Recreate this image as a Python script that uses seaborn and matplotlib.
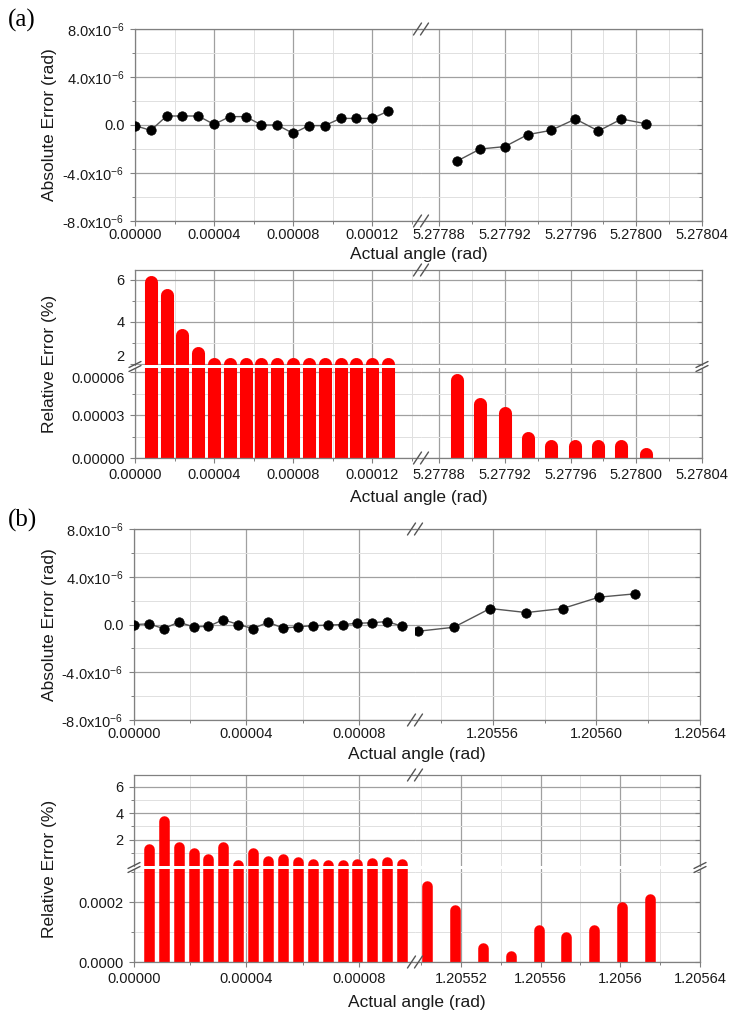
import numpy as np
import matplotlib
matplotlib.use("Agg")
import matplotlib.pyplot as plt
import seaborn as sns
from matplotlib.lines import Line2D

# ---------------- data ----------------
# Panel (a): absolute error (micro-rad) vs actual angle
a_left_x = [0.0, 0.000008, 0.000016, 0.000024, 0.000032, 0.000040, 0.000048, 0.000056,
            0.000064, 0.000072, 0.000080, 0.000088, 0.000096, 0.000104, 0.000112,
            0.000120, 0.000128]
a_left_err = [-0.05, -0.45, 0.75, 0.75, 0.75, 0.05, 0.7, 0.7, 0.0, 0.0, -0.7, -0.05,
              -0.05, 0.55, 0.55, 0.55, 1.15]
a_right_x = [5.277891, 5.277905, 5.277920, 5.277934, 5.277948, 5.277963, 5.277977,
             5.277991, 5.278006]
a_right_err = [-3.0, -2.0, -1.8, -0.8, -0.45, 0.5, -0.5, 0.5, 0.1]

# Panel (a): relative error (%)
a_rel_left_x = [0.000008, 0.000016, 0.000024, 0.000032, 0.000040, 0.000048, 0.000056,
                0.000064, 0.000072, 0.000080, 0.000088, 0.000096, 0.000104, 0.000112,
                0.000120, 0.000128]
a_rel_left = [5.9, 5.3, 3.4, 2.5, 2.0, 2.0, 2.0, 2.0, 2.0, 2.0, 2.0, 2.0, 2.0, 2.0, 2.0, 2.0]
a_rel_right_x = a_right_x
a_rel_right = [5.45e-5, 3.75e-5, 3.15e-5, 1.4e-5, 0.85e-5, 0.85e-5, 0.85e-5, 0.85e-5, 0.25e-5]

# Panel (b): absolute error (micro-rad)
b_left_x = [0.0, 0.0000053, 0.0000106, 0.0000159, 0.0000212, 0.0000265, 0.0000318,
            0.0000371, 0.0000424, 0.0000477, 0.0000530, 0.0000583, 0.0000636, 0.0000689,
            0.0000742, 0.0000795, 0.0000848, 0.0000901, 0.0000954]
b_left_err = [0.0, 0.05, -0.35, 0.2, -0.2, -0.15, 0.4, 0.0, -0.35, 0.2, -0.3, -0.2, -0.1,
              -0.05, 0.0, 0.1, 0.15, 0.25, -0.15]
b_right_x = [1.205531, 1.205545, 1.205559, 1.205573, 1.205587, 1.205601, 1.205615]
b_right_err = [-0.57, -0.23, 1.34, 1.0, 1.34, 2.29, 2.57]

# Panel (b): relative error (%)
b_rel_left_x = [0.0000053, 0.0000106, 0.0000159, 0.0000212, 0.0000265, 0.0000318,
                0.0000371, 0.0000424, 0.0000477, 0.0000530, 0.0000583, 0.0000636,
                0.0000689, 0.0000742, 0.0000795, 0.0000848, 0.0000901, 0.0000954]
b_rel_left = [1.27, 3.38, 1.42, 0.96, 0.5, 1.47, 0.1, 0.96, 0.38, 0.5, 0.33, 0.15, 0.08,
              0.08, 0.15, 0.2, 0.33, 0.15]
b_rel_right_x = [1.205503, 1.205517, 1.205531, 1.205545, 1.205559, 1.205573, 1.205587,
                 1.205601, 1.205615]
b_rel_right = [2.52e-4, 1.75e-4, 0.47e-4, 0.2e-4, 1.08e-4, 0.82e-4, 1.08e-4, 1.85e-4, 2.11e-4]

# tick labels
abs_yticks = [-8e-6, -4e-6, 0.0, 4e-6, 8e-6]
abs_ylabels = ["-8.0x10$^{-6}$", "-4.0x10$^{-6}$", "0.0", "4.0x10$^{-6}$", "8.0x10$^{-6}$"]
left_xticks = [0.0, 0.00004, 0.00008, 0.00012]
left_xlabels = ["0.00000", "0.00004", "0.00008", "0.00012"]
a_right_xticks = [5.27788, 5.27792, 5.27796, 5.27800, 5.27804]
a_right_xlabels = ["5.27788", "5.27792", "5.27796", "5.27800", "5.27804"]
b_top_right_xticks = [1.20556, 1.20560, 1.20564]
b_top_right_xlabels = ["1.20556", "1.20560", "1.20564"]
b_bar_right_xticks = [1.20552, 1.20556, 1.20560, 1.20564]
b_bar_right_xlabels = ["1.20552", "1.20556", "1.2056", "1.20564"]

# ---------------- style ----------------
sns.set_theme(style="white")
plt.rcParams["font.family"] = ["Liberation Sans", "DejaVu Sans"]
plt.rcParams["mathtext.default"] = "regular"
plt.rcParams["path.simplify"] = False

W, H = 729, 1015
fig = plt.figure(figsize=(W / 100, H / 100), dpi=100)
fig.patch.set_facecolor("white")

SPINE = "#808080"
TXT = "#1a1a1a"


def rect(x0, y0, x1, y1):
    return [x0 / W, 1 - y1 / H, (x1 - x0) / W, (y1 - y0) / H]


def style(ax, xlim, xt, xl, xminor, ylim, yt, yl, yminor, side, show_x, xpad):
    ax.set_xlim(*xlim)
    ax.set_ylim(*ylim)
    ax.set_xticks(xt)
    ax.set_xticklabels(xl if show_x else [""] * len(xt))
    ax.set_xticks(xminor, minor=True)
    ax.set_yticks(yt)
    ax.set_yticklabels(yl if side == "left" else [""] * len(yt))
    ax.set_yticks(yminor, minor=True)
    ax.set_axisbelow(True)
    ax.grid(which="major", color="#a0a0a0", lw=0.9)
    ax.grid(which="minor", color="#e0e0e0", lw=0.7)
    for s in ax.spines.values():
        s.set_color(SPINE)
        s.set_linewidth(0.9)
    ax.tick_params(which="major", length=3.6, width=0.8, color=SPINE, labelsize=10.5,
                   labelcolor=TXT)
    ax.tick_params(which="minor", length=2.2, width=0.7, color=SPINE)
    ax.tick_params(axis="x", which="both", direction="out", bottom=show_x, top=False,
                   pad=xpad)
    if side == "left":
        ax.spines["right"].set_visible(False)
        ax.tick_params(axis="y", which="both", direction="out", left=True, right=False,
                       pad=4)
    else:
        ax.spines["left"].set_visible(False)
        ax.tick_params(axis="y", which="both", direction="in", left=False, right=True,
                       labelleft=False)
    ax.set_xlabel("")
    ax.set_ylabel("")


def xbreak(cx, cy):
    for dx in (-3.5, 3.5):
        fig.add_artist(Line2D([(cx + dx - 4) / W, (cx + dx + 4) / W],
                              [1 - (cy + 6) / H, 1 - (cy - 6) / H],
                              transform=fig.transFigure, color="#555555", lw=1.0))


def ybreak(cx, cy):
    for dy in (-2, 2):
        fig.add_artist(Line2D([(cx - 6) / W, (cx + 6) / W],
                              [1 - (cy + dy + 3) / H, 1 - (cy + dy - 3) / H],
                              transform=fig.transFigure, color="#555555", lw=1.0))


def line_panel(y0, y1, xl0, xb, xr1, left, right, ticks, label_y, ylab_y):
    axL = fig.add_axes(rect(xl0, y0, xb, y1))
    axR = fig.add_axes(rect(xb, y0, xr1, y1))
    for ax, (xs, ys) in ((axL, left), (axR, right)):
        sns.lineplot(x=xs, y=np.array(ys) * 1e-6, ax=ax, color="#555555", lw=1.0,
                     marker="o", markersize=6.8, markerfacecolor="black",
                     markeredgecolor="black", markeredgewidth=0.5, zorder=3)
    (lxlim, lxt, lxl, lxm), (rxlim, rxt, rxl, rxm) = ticks
    style(axL, lxlim, lxt, lxl, lxm, (-8e-6, 8e-6), abs_yticks, abs_ylabels,
          [-6e-6, -2e-6, 2e-6, 6e-6], "left", True, 1.5)
    style(axR, rxlim, rxt, rxl, rxm, (-8e-6, 8e-6), abs_yticks, abs_ylabels,
          [-6e-6, -2e-6, 2e-6, 6e-6], "right", True, 1.5)
    xbreak(xb, y0)
    xbreak(xb, y1)
    fig.text((xl0 + xr1) / 2 / W, 1 - label_y / H, "Actual angle (rad)", ha="center",
             va="center", fontsize=12.5, color=TXT)
    fig.text(50 / W, 1 - ylab_y / H, "Absolute Error (rad)", rotation=90, ha="center",
             va="center", fontsize=12.5, color=TXT)


def bar_panel(y0, ygap0, ygap1, y1, xl0, xb, xr1, left, right, ticks, up, lo, lw,
              label_y, lift_low_label=False):
    (lxlim, lxt, lxl, lxm), (rxlim, rxt, rxl, rxm) = ticks
    (uylim, uyt, uyl, uym) = up
    (lylim, lyt, lyl, lym) = lo
    for seg, (xa, xz) in (("L", (xl0, xb)), ("R", (xb, xr1))):
        axU = fig.add_axes(rect(xa, y0, xz, ygap0))
        axD = fig.add_axes(rect(xa, ygap1, xz, y1))
        xs, vs = left if seg == "L" else right
        for ax in (axU, axD):
            ax.vlines(xs, 0, vs, colors="#ff0000", linewidth=lw, capstyle="round",
                      zorder=2)
        side = "left" if seg == "L" else "right"
        xlim, xt, xl, xm = (lxlim, lxt, lxl, lxm) if seg == "L" else (rxlim, rxt, rxl, rxm)
        style(axU, xlim, xt, xl, xm, uylim, uyt, uyl, uym, side, False, 3.5)
        style(axD, xlim, xt, xl, xm, lylim, lyt, lyl, lym, side, True, 3.5)
        axU.spines["bottom"].set_visible(False)
        axD.spines["top"].set_visible(False)
        if lift_low_label and seg == "L":
            # lowest label of upper segment sits just above the break
            axU.get_yticklabels()[0].set_va("bottom")
            axD.get_yticklabels()[-1].set_va("top")
    xbreak(xb, y0)
    xbreak(xb, y1)
    gy = (ygap0 + ygap1) / 2
    ybreak(xl0, gy)
    ybreak(xr1, gy)
    fig.text((xl0 + xr1) / 2 / W, 1 - label_y / H, "Actual angle (rad)", ha="center",
             va="center", fontsize=12.5, color=TXT)
    fig.text(50 / W, 1 - ((y0 + y1) / 2) / H, "Relative Error (%)", rotation=90,
             ha="center", va="center", fontsize=12.5, color=TXT)


# ---------------- panel (a) ----------------
a_ticks = (((0.0, 0.0001447), left_xticks, left_xlabels, [0.00002, 0.00006, 0.00010, 0.00014]),
           ((5.277869, 5.27804), a_right_xticks, a_right_xlabels,
            [5.27790, 5.27794, 5.27798, 5.27802]))
line_panel(29, 221, 135, 421, 702, (a_left_x, a_left_err), (a_right_x, a_right_err),
           a_ticks, 254, 125)
bar_panel(270, 365, 368, 458, 135, 421, 702,
          (a_rel_left_x, a_rel_left), (a_rel_right_x, a_rel_right), a_ticks,
          ((1.95, 6.475), [2, 4, 6], ["2", "4", "6"], [3, 5]),
          ((0, 6.28e-5), [0, 0.00003, 0.00006], ["0.00000", "0.00003", "0.00006"],
           [0.000015, 0.000045]),
          9.4, 498, lift_low_label=True)

# ---------------- panel (b) ----------------
b_top_ticks = (((0.0, 0.0001), left_xticks[:3], left_xlabels[:3], [0.00002, 0.00006]),
               ((1.20553, 1.20564), b_top_right_xticks, b_top_right_xlabels,
                [1.20554, 1.20558, 1.20562]))
line_panel(529, 720, 134, 415, 700, (b_left_x, b_left_err), (b_right_x, b_right_err),
           b_top_ticks, 754, 625)
b_bar_ticks = (((0.0, 0.0001), left_xticks[:3], left_xlabels[:3], [0.00002, 0.00006]),
               ((1.205497, 1.20564), b_bar_right_xticks, b_bar_right_xlabels,
                [1.20550, 1.20554, 1.20558, 1.20562]))
bar_panel(775, 866, 869, 962, 134, 415, 700,
          (b_rel_left_x, b_rel_left), (b_rel_right_x, b_rel_right), b_bar_ticks,
          ((0, 6.9), [2, 4, 6], ["2", "4", "6"], [1, 3, 5]),
          ((0, 3.1e-4), [0, 0.0002], ["0.0000", "0.0002"], [0.0001, 0.0003]),
          7.6, 1003)

fig.text(8 / W, 1 - 20 / H, "(a)", fontsize=18, family=["Liberation Serif", "DejaVu Serif"],
         ha="left", va="center", color="black")
fig.text(8 / W, 1 - 520 / H, "(b)", fontsize=18, family=["Liberation Serif", "DejaVu Serif"],
         ha="left", va="center", color="black")

fig.savefig("out.png", dpi=100, facecolor="white")
